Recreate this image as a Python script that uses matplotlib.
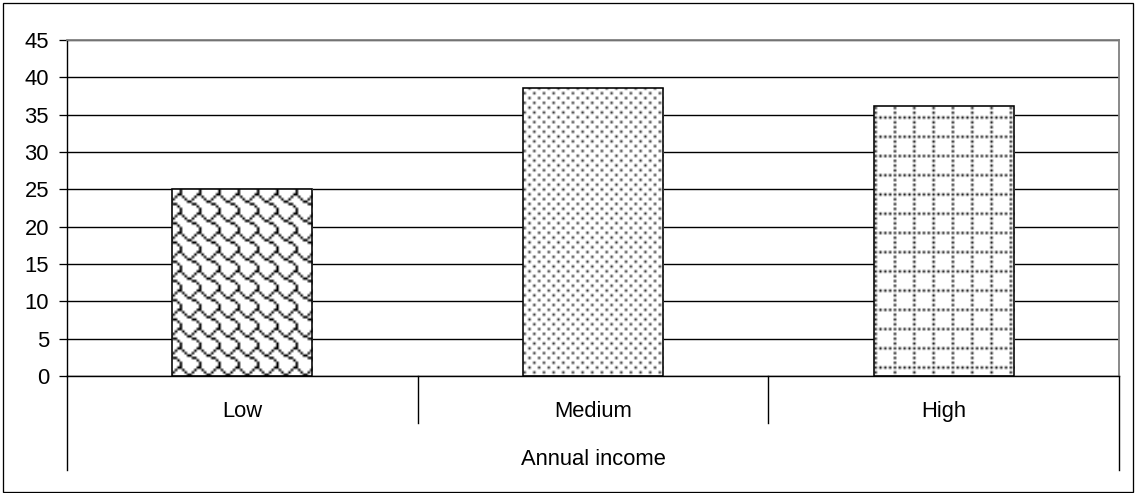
import numpy as np
import matplotlib
matplotlib.use('Agg')
import matplotlib.pyplot as plt
from matplotlib.transforms import blended_transform_factory
from matplotlib.patches import Rectangle

# ---- data ----
categories = ['Low', 'Medium', 'High']
values = [25.0, 38.6, 36.1]
y_ticks = [0, 5, 10, 15, 20, 25, 30, 35, 40, 45]
axis_title = 'Annual income'

# ---- style: 8x8 fill bitmaps (Office-like pattern fills) ----
fill_bitmaps = {
    'Low': [0x03, 0x84, 0x48, 0x30, 0x0C, 0x02, 0x01, 0x01],     # shingle
    'Medium': [0x88, 0x00, 0x22, 0x00, 0x88, 0x00, 0x22, 0x00],  # 20 %
    'High': [0xAA, 0x00, 0x80, 0x00, 0x80, 0x00, 0x80, 0x00],    # dotted grid
}
fill_strength = {'Low': 1.0, 'Medium': 0.8, 'High': 0.9}

plt.rcParams['font.family'] = ['Liberation Sans', 'DejaVu Sans']

DPI = 114
W, H = 1136, 493
PT = 72.0 / DPI  # points per pixel

fig = plt.figure(figsize=(W / DPI, H / DPI), dpi=DPI)
fig.patch.set_facecolor('white')

ax_left, ax_right, ax_top, ax_bottom = 67, 1119, 40, 376
ax = fig.add_axes([ax_left / W, 1 - ax_bottom / H,
                   (ax_right - ax_left) / W, (ax_bottom - ax_top) / H])
ax_h_px = ax_bottom - ax_top
ax_w_px = ax_right - ax_left

x = np.arange(len(categories))
bar_w = 0.4
bars = ax.bar(x, values, width=bar_w, color='white', edgecolor='none', zorder=2)

# pattern fills, clipped to each bar
scale = 2.4  # screen pixels per bitmap pixel
nx = int(ax_w_px / scale)
ny = int(ax_h_px / scale)
for bar, cat in zip(bars, categories):
    bm = np.array([[(b >> (7 - i)) & 1 for i in range(8)] for b in fill_bitmaps[cat]], float)
    tiled = np.tile(bm, (ny // 8 + 1, nx // 8 + 1))[:ny, :nx]
    img = 1.0 - fill_strength[cat] * tiled
    im = ax.imshow(img, cmap='gray', vmin=0, vmax=1, extent=(-0.5, 2.5, 0, 45),
                   origin='upper', interpolation='bilinear', aspect='auto', zorder=2.5)
    im.set_clip_path(bar)

ax.bar(x, values, width=bar_w, facecolor='none', edgecolor='black',
       linewidth=1.6 * PT, zorder=3)

ax.set_xlim(-0.5, 2.5)
ax.set_ylim(0, 45)
ax.set_yticks(y_ticks)
ax.set_yticklabels([str(t) for t in y_ticks])
ax.set_xticks([])

ax.set_axisbelow(True)
ax.yaxis.grid(True, color='black', linewidth=1.4 * PT)

for side in ['left', 'bottom']:
    ax.spines[side].set_color('black')
    ax.spines[side].set_linewidth(1.4 * PT)
for side in ['top', 'right']:
    ax.spines[side].set_color('#808080')
    ax.spines[side].set_linewidth(1.8 * PT)

fs = 22 * PT
ax.tick_params(axis='y', direction='out', length=8 * PT, width=1.3 * PT,
               pad=10 * PT, labelsize=fs, colors='black')

trans = blended_transform_factory(ax.transData, ax.transAxes)
for b in [0.5, 1.5]:
    ax.plot([b, b], [0, -(423 - ax_bottom) / ax_h_px], transform=trans,
            color='black', linewidth=1.4 * PT, clip_on=False)
for b in [-0.5, 2.5]:
    ax.plot([b, b], [0, -(470 - ax_bottom) / ax_h_px], transform=trans,
            color='black', linewidth=1.4 * PT, clip_on=False)

for xi, cat in zip(x, categories):
    ax.text(xi, -(417 - ax_bottom) / ax_h_px, cat, transform=trans,
            ha='center', va='baseline', fontsize=fs, color='black')

ax.text(0.5, -(465 - ax_bottom) / ax_h_px, axis_title, transform=ax.transAxes,
        ha='center', va='baseline', fontsize=fs, color='black')

# outer chart-area frame
fig.add_artist(Rectangle((3.5 / W, 1 - 491.5 / H), (1132.5 - 3.5) / W, (491.5 - 3) / H,
                         transform=fig.transFigure, fill=False, edgecolor='black',
                         linewidth=1.3 * PT))

fig.savefig('out.png', dpi=DPI, facecolor='white')
